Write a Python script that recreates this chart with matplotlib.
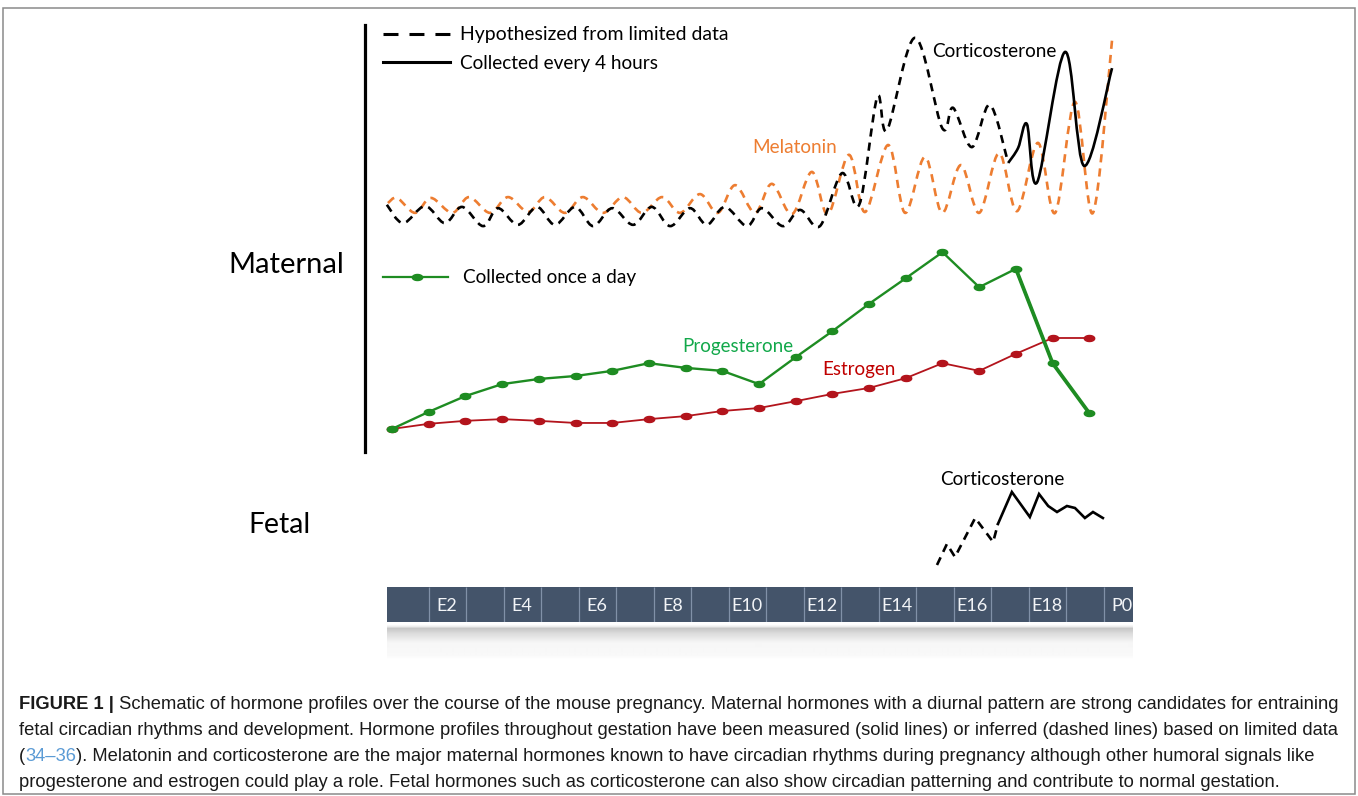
import numpy as np
import matplotlib
matplotlib.use("Agg")
import matplotlib.pyplot as plt
from matplotlib.path import Path
from matplotlib.patches import PathPatch, Rectangle
from matplotlib.lines import Line2D

# ---------------- data ----------------
# maternal daily hormones, one sample per day (arbitrary level units 0-100)
day_idx = list(range(20))
progesterone = [5.4, 9.4, 13.1, 15.9, 17.1, 17.8, 19.0, 20.8, 19.7, 19.0,
                15.9, 22.2, 28.3, 34.7, 40.7, 46.8, 38.6, 42.9, 20.8, 9.1]
estrogen = [5.4, 6.6, 7.3, 7.7, 7.3, 6.8, 6.8, 7.7, 8.4, 9.6,
            10.3, 11.9, 13.6, 15.0, 17.3, 20.8, 19.0, 23.0, 26.7, 26.7]

# maternal melatonin (hypothesized) peaks and troughs
mel_day = [-0.11, 0.14, 0.63, 1.06, 1.64, 2.10, 2.67, 3.16, 3.71, 4.17,
           4.71, 5.20, 5.75, 6.29, 6.81, 7.36, 7.85, 8.39, 8.88, 9.35,
           9.89, 10.35, 10.90, 11.44, 11.88, 12.45, 12.89, 13.52, 13.98, 14.52,
           14.99, 15.50, 16.00, 16.54, 17.03, 17.60, 18.07, 18.61, 19.10, 19.62]
mel_level = [58.3, 59.5, 56.0, 59.5, 56.0, 59.7, 56.0, 59.7, 56.2, 59.7,
             56.0, 59.7, 56.0, 59.7, 56.0, 59.7, 56.0, 60.4, 56.0, 62.5,
             56.0, 62.8, 55.7, 65.6, 55.7, 69.6, 56.2, 71.9, 56.0, 69.1,
             56.0, 67.2, 56.0, 70.0, 56.4, 72.4, 56.0, 82.0, 56.0, 96.5]

# maternal corticosterone: hypothesized (dashed) then collected every 4 h (solid)
cort_dash_day = [-0.14, 0.30, 0.90, 1.44, 1.91, 2.48, 2.89, 3.43, 3.95, 4.44,
                 4.99, 5.48, 6.00, 6.57, 7.08, 7.58, 8.12, 8.58, 9.07, 9.67,
                 10.08, 10.65, 11.12, 11.66, 12.26, 12.73, 13.22, 13.49, 14.25, 14.99,
                 15.29, 15.80, 16.29, 16.79]
cort_dash_level = [57.9, 53.6, 57.6, 53.6, 57.4, 52.9, 57.1, 53.2, 57.4, 53.2,
                   57.4, 52.9, 57.1, 53.2, 57.4, 52.9, 57.1, 53.2, 57.4, 52.9,
                   57.1, 52.9, 56.7, 52.9, 65.3, 57.9, 83.1, 75.4, 97.0, 75.9,
                   80.6, 71.4, 81.3, 67.7]
cort_solid_day = [16.79, 17.06, 17.30, 17.58, 18.34, 18.86, 19.62]
cort_solid_level = [67.7, 71.2, 76.8, 63.2, 93.7, 67.0, 89.9]

# fetal corticosterone
fetal_dash_day = [14.85, 15.12, 15.34, 15.89, 16.38, 16.51]
fetal_dash_level = [15, 36, 23, 62, 38, 56]
fetal_solid_day = [16.51, 16.89, 17.38, 17.63, 17.88, 18.12, 18.39, 18.61, 18.88, 19.10, 19.37]
fetal_solid_level = [56, 88, 63, 86, 74, 68, 74, 72, 62, 68, 62]

# gestation timeline
timeline_cells = list(range(20))
timeline_labels = ["", "E2", "", "E4", "", "E6", "", "E8", "", "E10",
                   "", "E12", "", "E14", "", "E16", "", "E18", "", "P0"]

caption_lines = [
    [("FIGURE 1 |", "bold", "#1a1a1a"),
     (" Schematic of hormone profiles over the course of the mouse pregnancy. Maternal hormones with a diurnal pattern are strong candidates for entraining", "normal", "#1a1a1a")],
    [("fetal circadian rhythms and development. Hormone profiles throughout gestation have been measured (solid lines) or inferred (dashed lines) based on limited data", "normal", "#1a1a1a")],
    [("(", "normal", "#1a1a1a"), ("34\u201336", "normal", "#5b9bd5"),
     ("). Melatonin and corticosterone are the major maternal hormones known to have circadian rhythms during pregnancy although other humoral signals like", "normal", "#1a1a1a")],
    [("progesterone and estrogen could play a role. Fetal hormones such as corticosterone can also show circadian patterning and contribute to normal gestation.", "normal", "#1a1a1a")],
]

# ---------------- styling ----------------
CHART_FONT = ["Lato", "DejaVu Sans"]
CAP_FONT = ["Liberation Sans", "DejaVu Sans"]
ORANGE = "#ED7D31"
GREEN_LINE = "#1e8c22"
GREEN_TEXT = "#12a84a"
RED_LINE = "#b3141c"
RED_TEXT = "#c00000"
BAR = "#44546a"

W, H = 1358, 796
fig = plt.figure(figsize=(W / 100, H / 100), dpi=100)
fig.patch.set_facecolor("white")
renderer = fig.canvas.get_renderer()


def box(x0, y0, x1, y1):
    return [x0 / W, 1 - y1 / H, (x1 - x0) / W, (y1 - y0) / H]


DAY0_PX, DAY_PX = 392, 36.7


def day_lim(x0, x1):
    return ((x0 - DAY0_PX) / DAY_PX, (x1 - DAY0_PX) / DAY_PX)


def bare(ax):
    ax.set_xticks([])
    ax.set_yticks([])
    for s in ax.spines.values():
        s.set_visible(False)
    ax.patch.set_alpha(0)


def catmull_path(x, y, k=1 / 6):
    p = np.column_stack([x, y]).astype(float)
    n = len(p)
    verts = [p[0]]
    codes = [Path.MOVETO]
    for i in range(n - 1):
        p0 = p[max(i - 1, 0)]
        p1 = p[i]
        p2 = p[i + 1]
        p3 = p[min(i + 2, n - 1)]
        verts += [p1 + (p2 - p0) * k, p2 - (p3 - p1) * k, p2]
        codes += [Path.CURVE4] * 3
    return Path(np.array(verts), codes)


def smooth_line(ax, x, y, color, lw, ls, z):
    ax.add_patch(PathPatch(catmull_path(x, y), fill=False, edgecolor=color, lw=lw,
                           linestyle=ls, capstyle="butt", joinstyle="round",
                           clip_on=False, zorder=z))


def put(x, yb, s, width, color="black", family=CHART_FONT, **kw):
    t = fig.text(x / W, 1 - yb / H, s, fontsize=12, color=color, family=family,
                 ha="left", va="baseline", **kw)
    bb = t.get_window_extent(renderer)
    t.set_fontsize(12 * width / bb.width)
    return t


# ellipse marker
th = np.linspace(0, 2 * np.pi, 40)
ELL = Path(np.column_stack([np.cos(th), 0.58 * np.sin(th)]), closed=True)

# ---------------- maternal panel ----------------
axm = fig.add_axes(box(365, 25, 1140, 452))
axm.set_xlim(*day_lim(365, 1140))
axm.set_ylim(0, 100)
bare(axm)
axm.spines["left"].set_visible(True)
axm.spines["left"].set_linewidth(2.3)

DASH = (0, (3.1, 2.3))
smooth_line(axm, mel_day, mel_level, ORANGE, 1.9, DASH, 2)
smooth_line(axm, cort_dash_day, cort_dash_level, "black", 1.9, DASH, 3)
smooth_line(axm, cort_solid_day, cort_solid_level, "black", 1.9, "-", 3)

axm.plot(day_idx, estrogen, color=RED_LINE, lw=1.3, marker=ELL, ms=7.5,
         mfc=RED_LINE, mec=RED_LINE, zorder=4, clip_on=False)
axm.plot(day_idx, progesterone, color=GREEN_LINE, lw=1.7, marker=ELL, ms=7.5,
         mfc=GREEN_LINE, mec=GREEN_LINE, zorder=5, clip_on=False)
axm.plot(day_idx[17:], progesterone[17:], color=GREEN_LINE, lw=2.7, zorder=5,
         solid_capstyle="round", clip_on=False)

# ---------------- fetal panel ----------------
axf = fig.add_axes(box(365, 470, 1140, 580))
axf.set_xlim(*day_lim(365, 1140))
axf.set_ylim(0, 110)
bare(axf)
axf.plot(fetal_dash_day, fetal_dash_level, color="black", lw=1.9, ls=(0, (3.2, 2.3)),
         dash_capstyle="butt", clip_on=False)
axf.plot(fetal_solid_day, fetal_solid_level, color="black", lw=1.9,
         solid_joinstyle="miter", clip_on=False)

# ---------------- timeline ----------------
CELL0, CELL_PX = 391, 37.5
axt = fig.add_axes(box(387, 587, 1133, 622))
axt.set_xlim((387 - CELL0) / CELL_PX, (1133 - CELL0) / CELL_PX)
axt.set_ylim(0, 1)
axt.set_xticks([])
axt.set_yticks([])
for s in axt.spines.values():
    s.set_visible(False)
axt.set_facecolor(BAR)
axt.bar(timeline_cells, 1, width=1, align="edge", color=BAR, linewidth=0)
axt.bar([-1], 1, width=1, align="edge", color=BAR, linewidth=0)
axt.vlines(timeline_cells[1:], 0, 1, color="#8191a8", lw=0.9)
for c, lab in zip(timeline_cells, timeline_labels):
    if lab:
        axt.text(c + 0.5, 0.47, lab, ha="center", va="center", color="#f2f4f7",
                 fontsize=13, family=CHART_FONT)

# reflection under the timeline
axg = fig.add_axes(box(387, 624, 1133, 660))
rows = np.arange(36)
gray = np.interp(rows, [0, 2, 4, 9, 17, 19, 31, 35], [1.0, 0.93, 0.78, 0.86, 0.95, 0.965, 0.975, 1.0])
axg.imshow(np.repeat(gray[:, None], 2, axis=1), cmap="gray", vmin=0, vmax=1,
           aspect="auto", extent=(0, 1, 1, 0), interpolation="bilinear")
axg.set_xlim(0, 1)
axg.set_ylim(1, 0)
bare(axg)

# ---------------- legends ----------------
fig.add_artist(Line2D([383 / W, 450 / W], [1 - 34 / H] * 2, color="black", lw=2.2,
                      ls=(0, (4.9, 3.6)), dash_capstyle="butt"))
fig.add_artist(Line2D([383 / W, 450 / W], [1 - 62 / H] * 2, color="black", lw=2.2))
fig.add_artist(Line2D([383 / W, 448 / W], [1 - 277 / H] * 2, color=GREEN_LINE, lw=1.6))
fig.add_artist(Line2D([417 / W], [1 - 277 / H], color=GREEN_LINE, marker=ELL, ms=7.5,
                      mfc=GREEN_LINE, mec=GREEN_LINE, ls="none"))

# ---------------- labels ----------------
put(460, 40, "Hypothesized from limited data", 267)
put(460, 69, "Collected every 4 hours", 198)
put(463, 283, "Collected once a day", 174)
put(752, 153, "Melatonin", 85, color=ORANGE)
put(932, 57, "Corticosterone", 125)
put(682, 352, "Progesterone", 111, color=GREEN_TEXT)
put(822, 375, "Estrogen", 73, color=RED_TEXT)
put(228, 273, "Maternal", 115)
put(248, 533, "Fetal", 62)
put(940, 485, "Corticosterone", 124)

# ---------------- caption ----------------
def run_width(runs, size):
    tot = 0
    for s, wt, col in runs:
        t = fig.text(0, 0, s, fontsize=size, family=CAP_FONT, weight=wt)
        tot += t.get_window_extent(renderer).width
        t.remove()
    return tot


cap_size = 12 * 1327 / run_width(caption_lines[0], 12)
for i, runs in enumerate(caption_lines):
    x = 19
    yb = 709 + 26 * i
    for s, wt, col in runs:
        t = fig.text(x / W, 1 - yb / H, s, fontsize=cap_size, family=CAP_FONT,
                     weight=wt, color=col, ha="left", va="baseline")
        x += t.get_window_extent(renderer).width

# frame
fig.add_artist(Rectangle((3 / W, 1 - 794 / H), 1352 / W, 786 / H, transform=fig.transFigure,
                         fill=False, edgecolor="#8a8a8a", lw=1.1))

fig.savefig("out.png", dpi=100, facecolor="white")
